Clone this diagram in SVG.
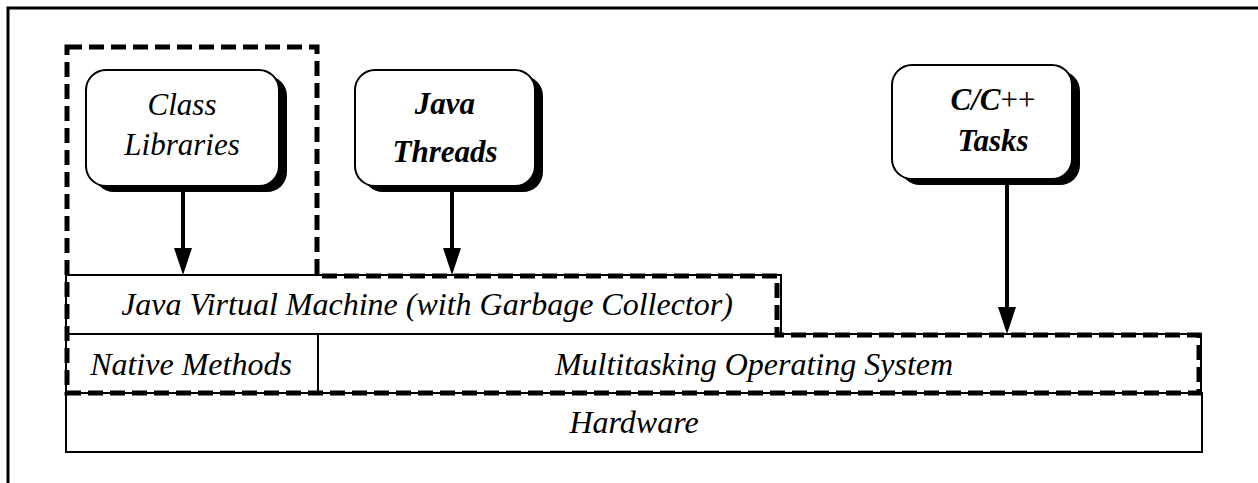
<svg xmlns="http://www.w3.org/2000/svg" width="1258" height="483" viewBox="0 0 1258 483">
<defs>
<style>
.frame{fill:none;stroke:#000;stroke-width:3}
.layer{fill:#fff;stroke:#000;stroke-width:2}
.dash{fill:none;stroke:#000;stroke-width:5;stroke-dasharray:15 7}
.shadow{fill:#000}
.box{fill:#fff;stroke:#000;stroke-width:2}
.lt{font-family:"Liberation Serif","Times New Roman",serif;font-style:italic;font-size:32px;text-anchor:middle;fill:#000}
.nt{font-family:"Liberation Serif","Times New Roman",serif;font-style:italic;font-size:31px;text-anchor:middle;fill:#000}
.b{font-weight:bold}
.conn{fill:none;stroke:#000;stroke-width:4}
</style>
<marker id="ah" viewBox="0 0 27 18" refX="0" refY="9" markerWidth="27" markerHeight="18" markerUnits="userSpaceOnUse" orient="auto">
<path d="M0,0 L27,9 L0,18 Z" fill="#000"/>
</marker>
</defs>
<rect width="1258" height="483" fill="#fff"/>
<path class="frame" d="M8,483 V8 H1258"/>

<g id="hardware">
<rect class="layer" x="66" y="393" width="1136" height="59"/>
<text class="lt" x="634" y="433">Hardware</text>
</g>
<g id="native-methods">
<rect class="layer" x="66" y="334" width="252" height="59"/>
<text class="lt" x="191" y="375">Native Methods</text>
</g>
<g id="multitasking-os">
<rect class="layer" x="318" y="334" width="883" height="59"/>
<text class="lt" x="754" y="375">Multitasking Operating System</text>
</g>
<g id="jvm">
<rect class="layer" x="66" y="275" width="715" height="59"/>
<text class="lt" x="427" y="315">Java Virtual Machine (with Garbage Collector)</text>
</g>

<g id="java-boundary">
<path class="dash" d="M67,47 H317 V276 H777 V335 H1199 V393 H67 Z"/>
</g>

<g id="class-libraries">
<rect class="shadow" x="94" y="76" width="193" height="116" rx="20"/>
<rect class="box" x="86" y="70" width="193" height="116" rx="20"/>
<text class="nt" x="182" y="115">Class</text>
<text class="nt" x="182" y="155">Libraries</text>
</g>
<g id="java-threads">
<rect class="shadow" x="363" y="76" width="180" height="116" rx="20"/>
<rect class="box" x="355" y="70" width="180" height="116" rx="20"/>
<text class="nt b" x="445" y="114">Java</text>
<text class="nt b" x="445" y="162">Threads</text>
</g>
<g id="cpp-tasks">
<rect class="shadow" x="900" y="71" width="180" height="114" rx="20"/>
<rect class="box" x="892" y="65" width="180" height="114" rx="20"/>
<text class="nt b" x="993" y="110">C/C<tspan font-weight="normal" font-style="normal">++</tspan></text>
<text class="nt b" x="993" y="151">Tasks</text>
</g>

<g id="connectors">
<path class="conn" d="M183,186 V248" marker-end="url(#ah)"/>
<path class="conn" d="M452,186 V248" marker-end="url(#ah)"/>
<path class="conn" d="M1007,179 V307" marker-end="url(#ah)"/>
</g>
</svg>
